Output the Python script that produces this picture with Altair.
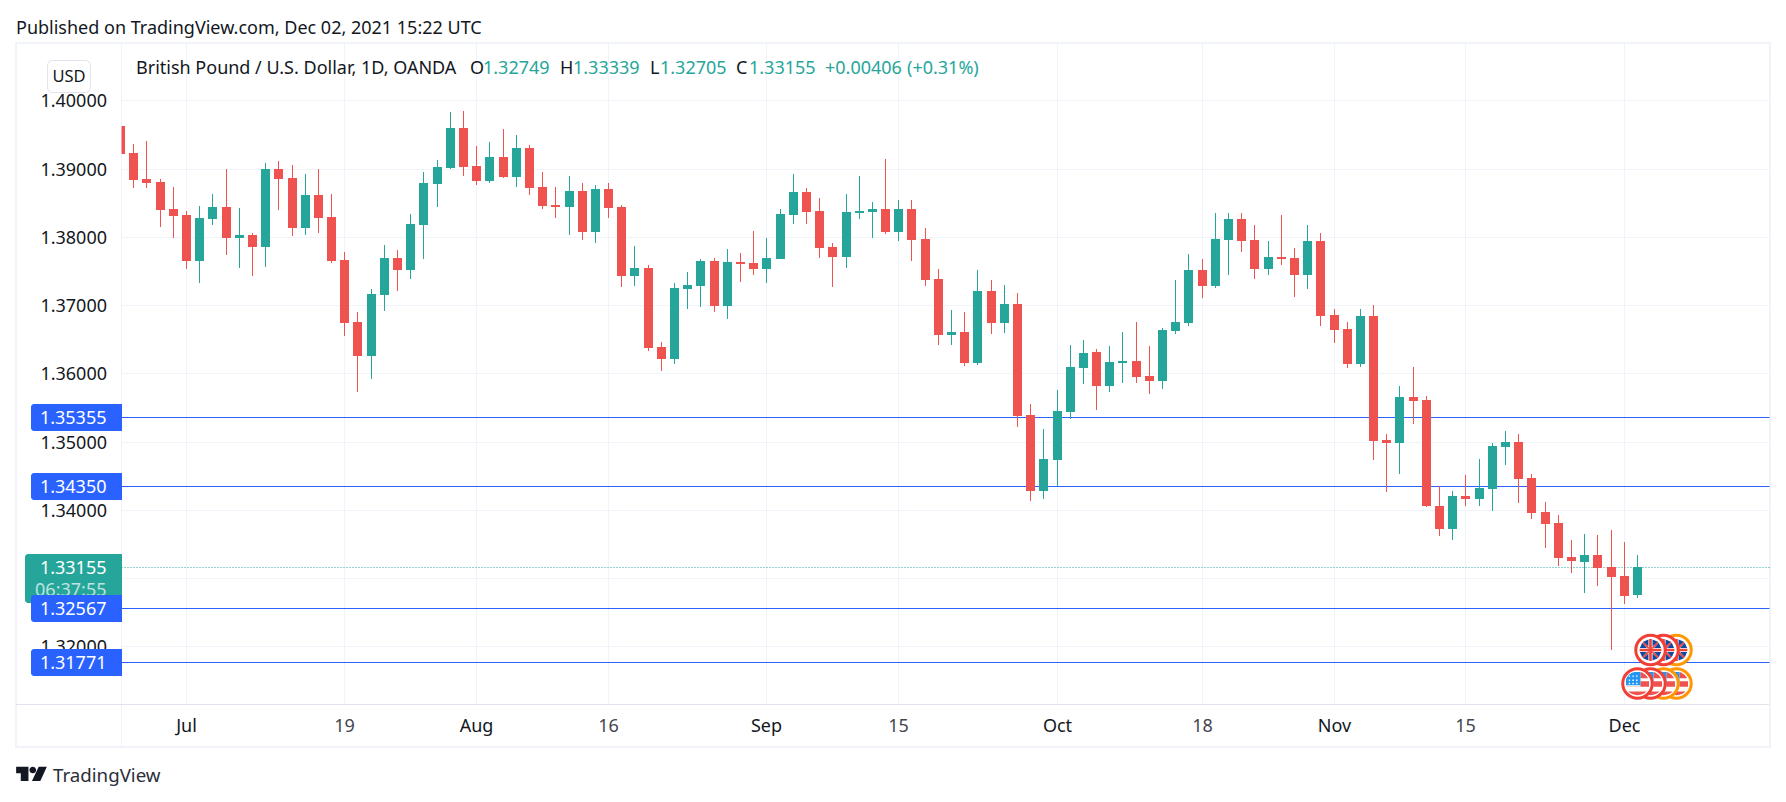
import json
import altair as alt
import pandas as pd

# ---- values (price x 100000), one per trading day from 24 Jun 2021 ----
HIGH = [139624,139360,139404,138847,138730,138378,138452,138627,138994,138422,
        138056,139082,139111,139052,138921,138994,138627,137778,136899,137236,
        137880,137807,138334,138950,139126,139829,139844,139331,139389,139580,
        139492,139345,138950,138730,138891,138789,138759,138789,138466,137865,
        137587,136459,137323,137484,137675,137689,137821,137763,138085,137983,
        138407,138920,138715,138569,137909,138627,138891,138510,139140,138539,
        138539,138129,137528,136928,136898,137514,137367,137294,137177,135550,
        135184,135755,136415,136488,136349,136393,136598,136745,136393,136657,
        137360,137741,137668,138356,138356,138342,138166,137932,138313,137829,
        138166,138049,136935,136745,136935,136994,135104,135807,136085,135661,
        134342,134269,134503,134737,134972,135148,135104,134518,134107,133917,
        133551,133650,133635,133708,133532,133339]
LOW = [139214,138715,138715,138144,137983,137529,137323,138173,137734,137543,
       137426,137558,138393,138012,138027,138056,137616,136547,135726,135917,
       136913,137206,137382,137675,138437,138994,138891,138759,138789,138862,
       138730,138613,138408,138276,138027,137953,137910,138276,137265,137279,
       136327,136034,136136,136942,136972,136898,136796,137338,137440,137323,
       137670,138188,138188,137689,137265,137543,138261,137983,138041,137939,
       137646,137279,136415,136415,136107,136122,136576,136591,135213,134129,
       134158,134349,135330,135843,135455,135719,135851,135851,135690,135763,
       136569,136686,137096,137243,137433,137770,137375,137433,137580,137111,
       137228,136686,136437,136071,136085,134723,134254,134518,135250,134034,
       133609,133551,134049,134063,133976,134650,134093,133858,133433,133170,
       133067,132785,132888,131950,132624,132705]
BODY_TOP = [139624,139228,138847,138803,138408,138320,138276,138437,138437,138027,
            138027,138994,138994,138862,138613,138613,138290,137660,136752,137162,
            137690,137690,138188,138789,139023,139594,139594,139038,139170,139170,
            139301,139301,138730,138466,138671,138671,138701,138701,138437,137543,
            137543,136385,137250,137294,137646,137646,137631,137631,137616,137689,
            138334,138657,138657,138378,137851,138363,138378,138407,138407,138407,
            138407,137968,137382,136605,136605,137206,137206,137015,137015,135389,
            134744,135448,136092,136298,136305,136159,136173,136173,135954,136628,
            136745,137507,137507,137961,138254,138254,137946,137697,137697,137683,
            137932,137932,136847,136642,136833,136833,135016,135646,135646,135602,
            134063,134195,134195,134313,134928,134987,134987,134459,133961,133800,
            133302,133342,133342,133166,133034,133155]
BODY_BOTTOM = [139214,138833,138789,138393,138305,137646,137646,138261,137983,137983,
               137851,137851,138847,138129,138129,138276,137646,136737,136254,136254,
               137148,137514,137514,138173,138774,139008,139023,138818,138818,138877,
               138877,138715,138452,138437,138437,138071,138071,138422,137426,137426,
               136371,136210,136210,137235,137279,136986,136986,137602,137528,137528,
               137675,138319,138363,137836,137704,137704,138349,138363,138070,138070,
               137953,137367,136561,136561,136151,136151,136737,136737,135374,134276,
               134276,134730,135433,136078,135807,135807,136144,135939,135880,135880,
               136613,136730,137272,137272,137946,137932,137521,137521,137668,137433,
               137433,136833,136628,136129,136129,135001,134972,134972,135587,134049,
               133712,133712,134151,134151,134298,134913,134444,133946,133785,133287,
               133243,133239,133152,133020,132741,132749]
UP_DAYS = [6,7,9,11,14,19,20,22,23,24,25,28,30,34,36,39,42,43,44,46,49,50,51,55,56,57,59,
           63,65,67,70,71,72,73,75,76,79,80,81,83,84,87,90,94,97,101,103,104,105,111,115]

PRICE_TICKS = [1.32, 1.33, 1.34, 1.35, 1.36, 1.37, 1.38, 1.39, 1.40]
HIDDEN_PRICE_LABEL = 1.33      # sits fully under the green tag in the reference
TIME_TICKS = [5, 17, 27, 37, 49, 59, 71, 82, 92, 102, 114]
TIME_LABELS = ["Jul", "19", "Aug", "16", "Sep", "15", "Oct", "18", "Nov", "15", "Dec"]
MONTH_TICKS = [5, 27, 49, 71, 92, 114]
LEVELS = [1.35355, 1.34350, 1.32567, 1.31771]
LAST_PRICE = 1.33155
UK_EVENTS = [118, 117, 116]      # back to front
US_EVENTS = [118, 117, 116, 115]
UK_RINGS = {118: "#ff9800", 117: "#f23f35", 116: "#f23f35"}
US_RINGS = {118: "#ff9800", 117: "#ff9800", 116: "#f23f35", 115: "#f23f35"}

# ---- style ----
FONT = "Noto Sans"
INK, SOFT = "#131722", "#434651"
UP, DOWN, BLUE = "#26a69a", "#ef5350", "#2962ff"
GRID, FRAME, SEP = "#f0f3fa", "#f0f3fa", "#e0e3eb"
OX, OY = 121.5, 44            # page position of the plot's origin
W, H = 1648, 660
PX_PER_BAR, FIRST_X = 13.19, 65
PX_PER_UNIT, Y140 = 6825, 56.3

xdom = [(0 - FIRST_X) / PX_PER_BAR + 5, (W - FIRST_X) / PX_PER_BAR + 5]
ydom = [1.40 - (H - Y140) / PX_PER_UNIT, 1.40 + Y140 / PX_PER_UNIT]

df = pd.DataFrame({"i": range(len(HIGH))})
df["high"] = [v / 1e5 for v in HIGH]
df["low"] = [v / 1e5 for v in LOW]
df["top"] = [v / 1e5 for v in BODY_TOP]
df["bottom"] = [v / 1e5 for v in BODY_BOTTOM]
df["dir"] = ["up" if i in UP_DAYS else "down" for i in df["i"]]

label_map = json.dumps({str(k): v for k, v in zip(TIME_TICKS, TIME_LABELS)})
xs = alt.Scale(domain=xdom, nice=False, zero=False, round=True, padding=0)
ys = alt.Scale(domain=ydom, nice=False, zero=False, round=True)
x_enc = alt.X("i:Q", scale=xs, title=None, axis=alt.Axis(
    values=TIME_TICKS, labelExpr=f"{label_map}[datum.value]", grid=True, gridColor=GRID, gridWidth=1,
    domain=False, ticks=False, labelPadding=14, labelFontSize=18, labelFont=FONT, translate=0,
    labelOverlap=False, labelFlush=False, labelBound=False,
    labelColor={"condition": {"test": f"indexof({MONTH_TICKS}, datum.value) >= 0", "value": INK}, "value": SOFT}))
y_axis = alt.Axis(values=PRICE_TICKS, grid=True, gridColor=GRID, gridWidth=1, domain=False,
                  labelExpr=f"abs(datum.value - {HIDDEN_PRICE_LABEL}) < 1e-6 ? '' : format(datum.value, '.5f')",
                  ticks=False, labelPadding=15, labelFontSize=18, labelFont=FONT, labelColor=INK, labelOffset=1,
                  labelOverlap=False, labelFlush=False, labelBound=False)
y_enc = lambda f: alt.Y(f"{f}:Q", scale=ys, title=None, axis=y_axis)
col = alt.Color("dir:N", scale=alt.Scale(domain=["up", "down"], range=[UP, DOWN]), legend=None)


def txt(s, x, y, size=18, color=INK, align="left"):
    return alt.Chart(pd.DataFrame({"t": [s]})).mark_text(
        align=align, baseline="middle", fontSize=size, color=color, font=FONT
    ).encode(x=alt.value(x - OX), y=alt.value(y - OY + 1), text="t:N")


def box(x1, y1, x2, y2, fill, **kw):
    return alt.Chart(pd.DataFrame({"a": [0]})).mark_rect(fill=fill, **kw).encode(
        x=alt.value(x1 - OX), x2=alt.value(x2 - OX), y=alt.value(y1 - OY), y2=alt.value(y2 - OY))


def shape_layer(xval, yabs, shape, fill):
    return alt.Chart(pd.DataFrame({"i": [xval]})).mark_point(
        shape=shape, size=870, filled=True, fill=fill, opacity=1, strokeWidth=0
    ).encode(x=x_enc, y=alt.value(yabs - OY))


UK_BLUE_PATH = ("M-.14,-.72L-.14,-.24L-.5,-.56Z M.14,-.72L.14,-.24L.5,-.56Z M-.14,.72L-.14,.24L-.5,.56Z "
                "M.14,.72L.14,.24L.5,.56Z M-.72,-.14L-.24,-.14L-.56,-.5Z M.72,-.14L.24,-.14L.56,-.5Z "
                "M-.72,.14L-.24,.14L-.56,.5Z M.72,.14L.24,.14L.56,.5Z")
UK_RED_PATH = ("M-.74,-.09L.74,-.09L.74,.09L-.74,.09Z M-.09,-.74L.09,-.74L.09,.74L-.09,.74Z "
               "M-.56,-.48L-.48,-.56L-.08,-.16L-.16,-.08Z M.56,.48L.48,.56L.08,.16L.16,.08Z "
               "M.56,-.48L.48,-.56L.08,-.16L.16,-.08Z M-.56,.48L-.48,.56L-.08,.16L-.16,.08Z")
US_BLUE_PATH = "M-.78,.12L-.78,-.3Q-.6,-.72,-.2,-.78L.2,-.78L.2,.12Z"
US_RED_PATH = ("M.2,-.78L.32,-.74Q.6,-.6,.72,-.36L.2,-.36Z M.2,-.16L.78,-.16L.78,.22L.2,.22Z "
               "M-.72,.2L.78,.2 L.78,.22L-.72,.22Z M-.62,.55L.62,.55Q.4,.78,0,.8Q-.4,.78,-.62,.55Z")
US_STAR_PATH = "".join(f"M{a-.05:.2f},{b-.05:.2f}h.1v.1h-.1Z" for b in (-.5, -.22, 0) for a in (-.55, -.3, -.05))
LOGO = ("M-.96,-.46L-.19,-.46L-.19,.44L-.67,.44L-.67,-.04L-.96,-.04Z "
        "M-.13,-.25A.21,.21,0,1,0,.29,-.25A.21,.21,0,1,0,-.13,-.25Z "
        "M.45,-.46L.96,-.46L.55,.44L.03,.44Z")

layers = []
# frame
layers += [box(15, 42, 1771, 44, FRAME), box(15, 746, 1771, 748, FRAME),
           box(15, 42, 17, 748, FRAME), box(1769, 42, 1771, 748, FRAME),
           box(121, 44, 122, 747, FRAME), box(16, 704, 1769, 705, SEP)]
# axes + level lines
layers.append(alt.Chart(pd.DataFrame({"p": LEVELS})).mark_rule(color=BLUE, strokeWidth=1, yOffset=0.5).encode(
    y=y_enc("p"), x=alt.value(0), x2=alt.value(W)))
layers.append(alt.Chart(pd.DataFrame({"p": [LAST_PRICE]})).mark_rule(
    color=UP, strokeWidth=1, strokeDash=[1, 2], yOffset=0.5).encode(y=y_enc("p"), x=alt.value(0), x2=alt.value(W)))
# candles
layers.append(alt.Chart(df).mark_rule(strokeWidth=1, clip=True).encode(x=x_enc, y=y_enc("low"), y2="high:Q", color=col))
layers.append(alt.Chart(df).mark_bar(size=9, clip=True).encode(x=x_enc, y=y_enc("top"), y2="bottom:Q", color=col))
# events
for v in UK_EVENTS:
    layers.append(alt.Chart(pd.DataFrame({"i": [v]})).mark_point(
        shape="circle", size=870, filled=False, fill="white", stroke=UK_RINGS[v], strokeWidth=3, opacity=1
    ).encode(x=x_enc, y=alt.value(650 - OY)))
    layers.append(shape_layer(v, 650, UK_BLUE_PATH, "#0d47a1"))
    layers.append(shape_layer(v, 650, UK_RED_PATH, "#f0433a"))
for v in US_EVENTS:
    layers.append(alt.Chart(pd.DataFrame({"i": [v]})).mark_point(
        shape="circle", size=870, filled=False, fill="white", stroke=US_RINGS[v], strokeWidth=3, opacity=1
    ).encode(x=x_enc, y=alt.value(683.5 - OY)))
    layers.append(shape_layer(v, 683.5, US_RED_PATH, "#ef5350"))
    layers.append(shape_layer(v, 683.5, US_BLUE_PATH, "#2196f3"))
    layers.append(shape_layer(v, 683.5, US_STAR_PATH, "#ffffff"))
# price tags: the green one lies under the blue ones
layers.append(box(25, 554, 122, 603, UP, cornerRadiusTopLeft=3, cornerRadiusBottomLeft=3))
layers.append(txt(f"{LAST_PRICE:.5f}", 106.5, 568, color="white", align="right"))
layers.append(txt("06:37:55", 106.5, 590, color="#bde3df", align="right"))
layers.append(alt.Chart(pd.DataFrame({"p": LEVELS})).mark_rect(
    height=27, color=BLUE, yOffset=0.5, cornerRadiusTopLeft=3, cornerRadiusBottomLeft=3
).encode(y=y_enc("p"), x=alt.value(31 - OX), x2=alt.value(122 - OX)))
layers.append(alt.Chart(pd.DataFrame({"p": LEVELS, "t": [f"{v:.5f}" for v in LEVELS]})).mark_text(
    align="right", baseline="middle", fontSize=18, color="white", font=FONT, yOffset=1.5
).encode(y=y_enc("p"), x=alt.value(-15), text="t:N"))
# USD button
layers.append(box(47.5, 60.5, 90.5, 92.5, "white", stroke=SEP, strokeWidth=1, cornerRadius=5))
layers.append(txt("USD", 69, 76, size=16.5, align="center"))
# titles and legend
layers.append(txt("Published on TradingView.com, Dec 02, 2021 15:22 UTC", 16, 27.5))
layers.append(txt("British Pound / U.S. Dollar, 1D, OANDA", 136, 68))
for s, x, c in [("O", 470, INK), ("1.32749", 483, UP), ("H", 560, INK), ("1.33339", 573, UP),
                ("L", 650, INK), ("1.32705", 660, UP), ("C", 736, INK), ("1.33155", 749, UP),
                ("+0.00406", 825, UP), ("(+0.31%)", 907, UP)]:
    layers.append(txt(s, x, 68, color=c))
# logo
layers.append(alt.Chart(pd.DataFrame({"a": [0]})).mark_point(
    shape=LOGO, size=1024, filled=True, fill=INK, opacity=1, strokeWidth=0
).encode(x=alt.value(31.5 - OX), y=alt.value(774 - OY)))
layers.append(txt("TradingView", 53, 775, size=18.7, color="#2a2e39"))

chart = alt.layer(*layers).properties(
    width=W, height=H,
    padding={"left": 113.5, "top": 36, "right": 5, "bottom": 88},
    autosize=alt.AutoSizeParams(type="none"),
).configure_view(strokeWidth=0)

chart.save("out.html", embed_options={"renderer": "svg", "actions": False})
